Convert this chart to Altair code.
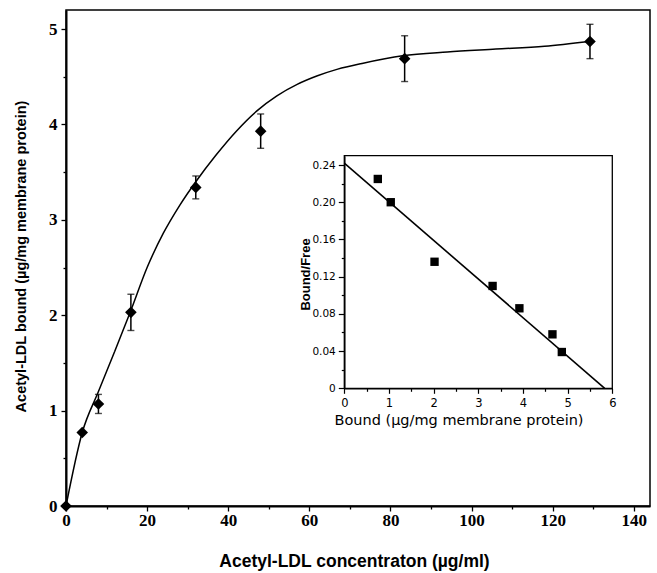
import altair as alt
import pandas as pd

# ---- main binding data ----
conc = [0, 4, 8, 16, 32, 48, 83.5, 129.2]
bound = [0, 0.77, 1.07, 2.03, 3.34, 3.93, 4.69, 4.87]
err = [0, 0, 0.10, 0.19, 0.12, 0.18, 0.24, 0.18]

# fitted saturation curve
curve_x = [0, 4, 8, 12, 16, 20, 24, 28, 32, 37, 42, 47, 52, 57, 62, 67, 73, 83, 94, 106, 118, 129]
curve_y = [0, 0.77, 1.2, 1.62, 2.05, 2.5, 2.86, 3.15, 3.40, 3.68, 3.93, 4.14, 4.30, 4.42, 4.51,
           4.58, 4.64, 4.72, 4.76, 4.79, 4.82, 4.87]

# ---- Scatchard inset data ----
sc_bound = [0.75, 1.04, 2.02, 3.32, 3.92, 4.66, 4.87]
sc_bf = [0.225, 0.200, 0.136, 0.110, 0.086, 0.058, 0.039]
fit_x = [0, 5.83]
fit_y = [0.242, 0]

main_x_ticks = [0, 10, 20, 30, 40, 50, 60, 70, 80, 90, 100, 110, 120, 130, 140]
main_y_ticks = [0, 0.5, 1, 1.5, 2, 2.5, 3, 3.5, 4, 4.5, 5]
in_x_ticks = [0, 0.5, 1, 1.5, 2, 2.5, 3, 3.5, 4, 4.5, 5, 5.5, 6]
in_y_ticks = [0, 0.02, 0.04, 0.06, 0.08, 0.10, 0.12, 0.14, 0.16, 0.18, 0.20, 0.22, 0.24]

W, H = 584, 496

pts = pd.DataFrame({"x": conc, "y": bound, "err": err})
pts["lo"] = pts["y"] - pts["err"]
pts["hi"] = pts["y"] + pts["err"]
curve = pd.DataFrame({"x": curve_x, "y": curve_y})

main_xaxis = alt.Axis(
    title="Acetyl-LDL concentraton (\u00b5g/ml)", values=main_x_ticks,
    labelExpr="datum.value % 20 == 0 ? format(datum.value, 'd') : ''",
    tickSize={"condition": {"test": "datum.value % 20 == 0", "value": 5}, "value": 3},
    labelOverlap=False, labelFlush=False, grid=False,
    labelFont="Liberation Serif", labelFontWeight="bold", labelFontSize=17,
    labelPadding=1, domainWidth=2, domainColor="black", tickColor="black", tickWidth=1.3,
    titleFont="Liberation Sans", titleFontWeight="bold", titleFontSize=17.5,
    titleX=288, titleY=55, titleAnchor="start", titleAlign="center", titleBaseline="middle",
    labelColor="black", titleColor="black",
)
main_yaxis = alt.Axis(
    title="Acetyl-LDL bound (\u00b5g/mg membrane protein)", values=main_y_ticks,
    labelExpr="datum.value % 1 == 0 ? format(datum.value, 'd') : ''",
    tickSize={"condition": {"test": "datum.value % 1 == 0", "value": 5}, "value": 3},
    labelOverlap=False, labelFlush=False, grid=False,
    labelFont="Liberation Serif", labelFontWeight="bold", labelFontSize=17,
    labelPadding=4, domainWidth=2, domainColor="black", tickColor="black", tickWidth=1.3,
    titleFont="Liberation Sans", titleFontWeight="bold", titleFontSize=14.5,
    titleX=-45, titleY=246, titleAngle=270, titleAlign="center", titleBaseline="middle",
    labelColor="black", titleColor="black",
)
ysc = alt.Scale(domain=[0, 5.2], nice=False, zero=False)
mx = alt.X("x:Q", scale=alt.Scale(domain=[0, 144], nice=False, zero=False), axis=main_xaxis)
my = alt.Y("y:Q", scale=ysc, axis=main_yaxis)

curve_layer = alt.Chart(curve).mark_line(color="black", strokeWidth=1.5, interpolate="monotone").encode(x=mx, y=my)
eb = alt.Chart(pts).transform_filter("datum.err > 0")
rules = eb.mark_rule(color="black", strokeWidth=1.5).encode(x=mx, y=alt.Y("lo:Q", scale=ysc, axis=main_yaxis), y2="hi:Q")
cap_lo = eb.mark_tick(color="black", orient="horizontal", size=7, thickness=1.4).encode(x=mx, y=alt.Y("lo:Q", scale=ysc, axis=main_yaxis))
cap_hi = eb.mark_tick(color="black", orient="horizontal", size=7, thickness=1.4).encode(x=mx, y=alt.Y("hi:Q", scale=ysc, axis=main_yaxis))
diamonds = alt.Chart(pts).mark_point(shape="diamond", filled=True, size=135, color="black", opacity=1).encode(x=mx, y=my)

main = alt.layer(curve_layer, rules, cap_lo, cap_hi, diamonds)

# ---- inset ----
IX0, IX1 = 278.3, 546.3
IY0, IY1 = 378.3, 145.7
in_xaxis = alt.Axis(
    title="Bound (\u00b5g/mg membrane protein)", orient="bottom", offset=-(H - IY0),
    values=in_x_ticks,
    labelExpr="datum.value % 1 == 0 ? format(datum.value, 'd') : ''",
    tickSize={"condition": {"test": "datum.value % 1 == 0", "value": 5}, "value": 3},
    labelOverlap=False, labelFlush=False, grid=False,
    labelFont="DejaVu Sans", labelFontSize=11.5, labelPadding=4,
    domainWidth=1.5, domainColor="black", tickColor="black", tickWidth=1.2,
    titleFont="DejaVu Sans", titleFontWeight="normal", titleFontSize=14.5,
    titleX=392.5, titleY=32, titleAnchor="start", titleAlign="center", titleBaseline="middle",
    labelColor="black", titleColor="black", zindex=2,
)
in_yaxis = alt.Axis(
    title="Bound/Free", orient="left", offset=-IX0,
    values=in_y_ticks,
    labelExpr="datum.value == 0 ? '0' : (round(datum.value * 100) % 4 == 0 ? format(datum.value, '.2f') : '')",
    tickSize={"condition": {"test": "round(datum.value * 100) % 4 == 0", "value": 6}, "value": 3},
    labelOverlap=False, labelFlush=False, grid=False,
    labelFont="DejaVu Sans", labelFontSize=10.5, labelPadding=3,
    domainWidth=1.5, domainColor="black", tickColor="black", tickWidth=1.2,
    titleFont="Liberation Sans", titleFontWeight="bold", titleFontSize=13,
    titleX=-39, titleY=264, titleAngle=270, titleAlign="center", titleBaseline="middle",
    labelColor="black", titleColor="black", zindex=2,
)
isx = alt.Scale(domain=[0, 6], range=[IX0, IX1], nice=False, zero=False)
isy = alt.Scale(domain=[0, 0.25], range=[IY0, IY1], nice=False, zero=False)
ix = alt.X("x:Q", scale=isx, axis=in_xaxis)
iy = alt.Y("y:Q", scale=isy, axis=in_yaxis)

frame = alt.Chart(pd.DataFrame({"x": [0], "x2": [6], "y": [0], "y2": [0.25]})).mark_rect(
    fill="white", stroke="black", strokeWidth=1.3).encode(x=ix, x2="x2:Q", y=iy, y2="y2:Q")
fit = alt.Chart(pd.DataFrame({"x": fit_x, "y": fit_y})).mark_line(color="black", strokeWidth=1.6).encode(x=ix, y=iy)
squares = alt.Chart(pd.DataFrame({"x": sc_bound, "y": sc_bf})).mark_point(
    shape="square", filled=True, size=70, color="black", opacity=1).encode(x=ix, y=iy)

inset = alt.layer(frame, fit, squares)

chart = alt.layer(main, inset).resolve_scale(x="independent", y="independent").properties(
    width=W, height=H,
    autosize=alt.AutoSizeParams(type="none"),
    padding={"left": 66, "top": 10, "right": 7, "bottom": 67},
    background="white",
).configure_view(stroke="black", strokeWidth=1.5)

chart.save("out.html", embed_options={"renderer": "svg", "actions": False})
